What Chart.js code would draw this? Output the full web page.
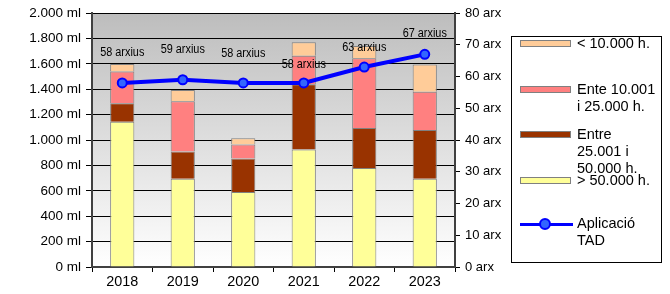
<!DOCTYPE html>
<html>
<head>
<meta charset="utf-8">
<script src="https://cdn.jsdelivr.net/npm/chart.js@4/dist/chart.umd.min.js"></script>
<style>
  body { margin: 0; background: #fff; font-family: "Liberation Sans", Arial, sans-serif; }
  #wrap { position: relative; width: 670px; height: 294px; }
  #legend { position: absolute; left: 511px; top: 36px; width: 151px; height: 227px;
            border: 1px solid #000; box-sizing: border-box; font-size: 14.5px; color: #000; }
  .item { position: absolute; left: 8px; }
  .sw { position: absolute; left: 0; width: 51px; height: 7px; border: 1px solid #808080; box-sizing: border-box; }
  .txt { position: absolute; left: 57px; white-space: nowrap; line-height: 17px; }
</style>
</head>
<body>
<div id="wrap">
  <canvas id="chart" width="670" height="294"></canvas>
  <div id="legend">
    <div class="item" style="top:3px"><div class="sw" style="background:#ffcc99"></div><div class="txt" style="top:-5px">&lt; 10.000 h.</div></div>
    <div class="item" style="top:49px"><div class="sw" style="background:#ff8080"></div><div class="txt" style="top:-5px">Ente 10.001<br>i 25.000 h.</div></div>
    <div class="item" style="top:94px"><div class="sw" style="background:#993300"></div><div class="txt" style="top:-5px">Entre<br>25.001 i<br>50.000 h.</div></div>
    <div class="item" style="top:140px"><div class="sw" style="background:#ffff99"></div><div class="txt" style="top:-5px">&gt; 50.000 h.</div></div>
    <div class="item" style="top:186px">
      <div style="position:absolute;left:0;top:0;width:53px;height:3px;background:#0000ff"></div>
      <div style="position:absolute;left:20px;top:-4px;width:8px;height:8px;border-radius:50%;background:#3366ff;border:2px solid #0000ff;box-sizing:content-box;margin-left:-1px;margin-top:-1px"></div>
      <div class="txt" style="top:-8px">Aplicació<br>TAD</div>
    </div>
  </div>
</div>
<script>
// dades
const years = ['2018', '2019', '2020', '2021', '2022', '2023'];
const over50k = [1145, 695, 590, 925, 780, 695];
const from25to50k = [145, 215, 265, 515, 315, 385];
const from10to25k = [250, 395, 110, 225, 550, 300];
const under10k = [60, 90, 50, 105, 95, 215];
const tadFiles = [58, 59, 58, 58, 63, 67];
const tadLabels = ['58 arxius', '59 arxius', '58 arxius', '58 arxius', '63 arxius', '67 arxius'];
const labelLift = [30, 30, 29, 18, 20, 21];

function fmtThousands(v) {
  return String(v).replace(/\B(?=(\d{3})+(?!\d))/g, '.');
}

const plotBg = {
  id: 'plotBg',
  beforeDraw(chart) {
    const { ctx, chartArea: a } = chart;
    const g = ctx.createLinearGradient(0, a.top, 0, a.bottom);
    g.addColorStop(0, '#bdbdbd');
    g.addColorStop(1, '#ffffff');
    ctx.save();
    ctx.fillStyle = g;
    ctx.fillRect(a.left, a.top, a.right - a.left, a.bottom - a.top);
    ctx.restore();
  }
};

// etiquetes estretes, com a l'original
const pointLabels = {
  id: 'pointLabels',
  afterDatasetsDraw(chart) {
    const ctx = chart.ctx;
    const meta = chart.getDatasetMeta(4);
    ctx.save();
    ctx.font = '12.5px "Liberation Sans", Arial, sans-serif';
    ctx.fillStyle = '#000';
    ctx.textAlign = 'center';
    ctx.textBaseline = 'middle';
    meta.data.forEach((pt, i) => {
      ctx.save();
      ctx.translate(pt.x, pt.y - labelLift[i]);
      ctx.scale(0.87, 1);
      ctx.fillText(tadLabels[i], 0, 0);
      ctx.restore();
    });
    ctx.restore();
  }
};

const barStyle = { borderColor: '#808080', borderWidth: 1, yAxisID: 'y', stack: 's', barPercentage: 0.4, categoryPercentage: 1, order: 2 };

new Chart(document.getElementById('chart').getContext('2d'), {
  type: 'bar',
  data: {
    labels: years,
    datasets: [
      Object.assign({ label: '> 50.000 h.', data: over50k, backgroundColor: '#ffff99' }, barStyle),
      Object.assign({ label: 'Entre 25.001 i 50.000 h.', data: from25to50k, backgroundColor: '#993300' }, barStyle),
      Object.assign({ label: 'Ente 10.001 i 25.000 h.', data: from10to25k, backgroundColor: '#ff8080' }, barStyle),
      Object.assign({ label: '< 10.000 h.', data: under10k, backgroundColor: '#ffcc99' }, barStyle),
      {
        type: 'line',
        label: 'Aplicació TAD',
        data: tadFiles,
        yAxisID: 'y1',
        borderColor: '#0000ff',
        borderWidth: 4,
        pointRadius: 4.5,
        pointBackgroundColor: '#3366ff',
        pointBorderColor: '#0000ff',
        pointBorderWidth: 2,
        tension: 0,
        order: 1
      }
    ]
  },
  options: {
    responsive: false,
    animation: false,
    layout: { padding: { top: 12, left: 0, right: 0, bottom: 0 } },
    plugins: { legend: { display: false }, tooltip: { enabled: false } },
    scales: {
      x: {
        stacked: true,
        grid: { offset: true, drawOnChartArea: false, color: '#000', tickLength: 5 },
        border: { color: '#404040', width: 2 },
        ticks: { color: '#000', font: { size: 14.4, family: '"Liberation Sans", Arial' }, padding: 1 },
        afterFit(s) { s.height = 27; }
      },
      y: {
        stacked: true,
        min: 0, max: 2000,
        ticks: { stepSize: 200, color: '#000', font: { size: 13.5, family: '"Liberation Sans", Arial' },
                 callback: v => fmtThousands(v) + ' ml', padding: 5 },
        grid: { color: '#000', tickLength: 6 },
        border: { color: '#404040', width: 2 },
        afterFit(s) { s.width = 92; }
      },
      y1: {
        position: 'right',
        min: 0, max: 80,
        ticks: { stepSize: 10, color: '#000', font: { size: 13, family: '"Liberation Sans", Arial' },
                 callback: v => v + ' arx', padding: 5 },
        grid: { drawOnChartArea: false, color: '#000', tickLength: 5 },
        border: { color: '#404040', width: 2 },
        afterFit(s) { s.width = 215; }
      }
    }
  },
  plugins: [plotBg, pointLabels]
});
</script>
</body>
</html>
